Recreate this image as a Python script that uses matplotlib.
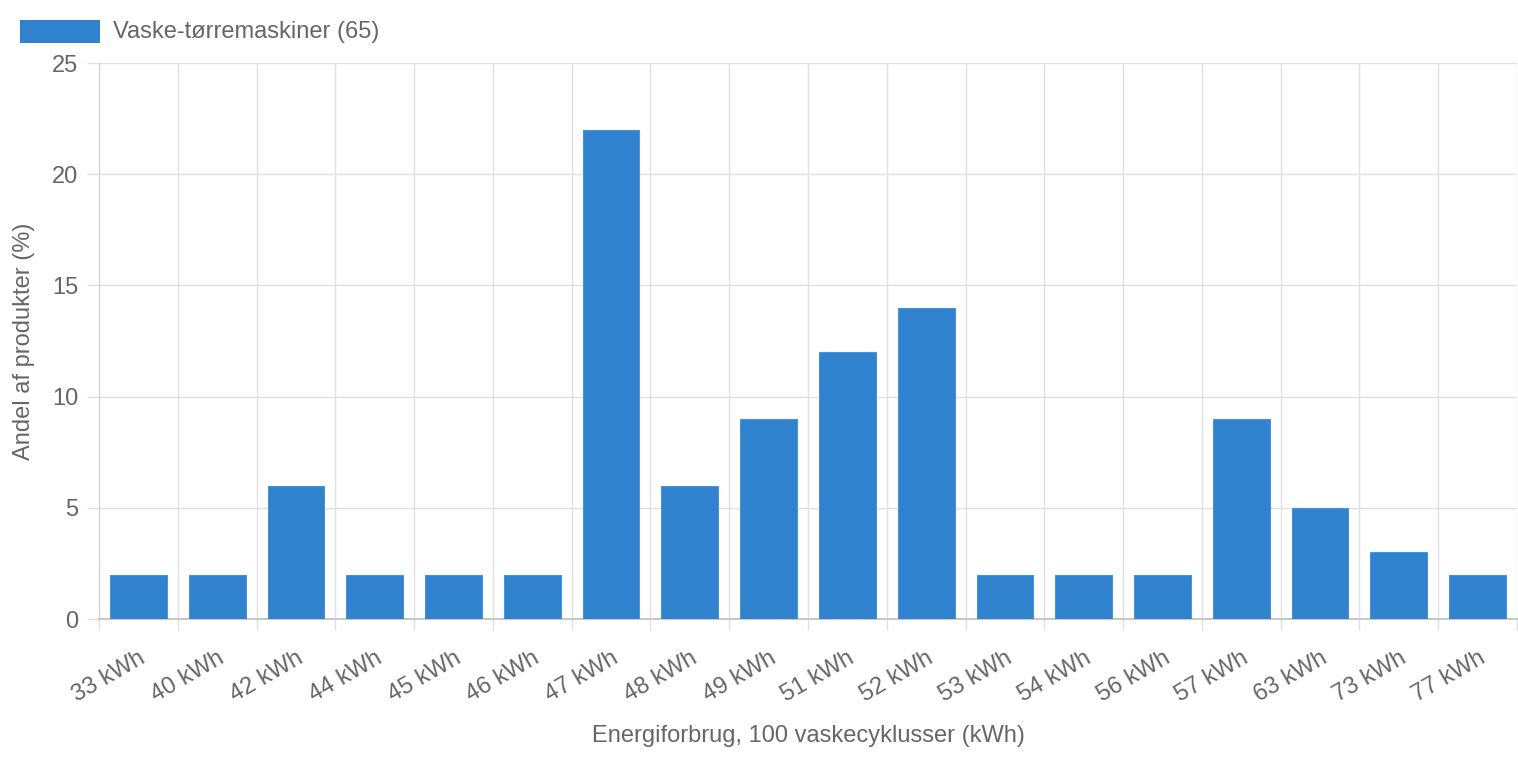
import numpy as np
import matplotlib
matplotlib.use("Agg")
import matplotlib.pyplot as plt
from matplotlib.patches import Rectangle

plt.rcParams['font.family'] = ['Liberation Sans', 'DejaVu Sans']

labels = ["33 kWh", "40 kWh", "42 kWh", "44 kWh", "45 kWh", "46 kWh", "47 kWh", "48 kWh",
          "49 kWh", "51 kWh", "52 kWh", "53 kWh", "54 kWh", "56 kWh", "57 kWh", "63 kWh",
          "73 kWh", "77 kWh"]
shares = [2, 2, 6, 2, 2, 2, 22, 6, 9, 12, 14, 2, 2, 2, 9, 5, 3, 2]
series_name = "Vaske-tørremaskiner (65)"

W, H = 1518, 758
blue = "#3182ce"
txt = "#666666"
grid = "#e1e1e1"

fig = plt.figure(figsize=(W / 100, H / 100), dpi=100)
ax = fig.add_axes([99 / W, 1 - 619 / H, (1517 - 99) / W, (619 - 63) / H])

x = np.arange(len(labels))
ax.bar(x, shares, width=0.72, color=blue, edgecolor="#4a93d9", linewidth=0.8, zorder=3)

ax.set_xlim(-0.5, len(labels) - 0.5)
ax.set_ylim(0, 25)
ax.set_yticks(range(0, 26, 5))
ax.set_xticks(x)
ax.set_xticklabels(labels, rotation=30, ha="right", rotation_mode="anchor")
ax.set_xticks(np.arange(-0.5, len(labels), 1), minor=True)

ax.tick_params(axis="x", which="major", length=0, pad=20, labelsize=17, labelcolor=txt)
ax.tick_params(axis="x", which="minor", length=8, color=grid, width=1)
ax.tick_params(axis="y", length=9, color=grid, width=1, pad=6, labelsize=17, labelcolor=txt)

ax.grid(True, axis="x", which="minor", color=grid, linewidth=1, zorder=0)
ax.grid(True, axis="y", which="major", color=grid, linewidth=1, zorder=0)
for s in ["top", "right"]:
    ax.spines[s].set_visible(False)
ax.spines["left"].set_color("#d0d0d0")
ax.spines["bottom"].set_color("#c8c8c8")
ax.spines["bottom"].set_linewidth(1.5)

ax.set_ylabel("Andel af produkter (%)", fontsize=17, color=txt, labelpad=12)
ax.set_xlabel("Energiforbrug, 100 vaskecyklusser (kWh)", fontsize=17, color=txt, labelpad=14)

# legend
fig.add_artist(Rectangle((20 / W, 1 - 43 / H), 80 / W, 23 / H, transform=fig.transFigure,
                         facecolor=blue, edgecolor="none"))
fig.text(113 / W, 1 - 32 / H, series_name, fontsize=17, color=txt, va="center", ha="left")

fig.savefig("out.png", dpi=100)
